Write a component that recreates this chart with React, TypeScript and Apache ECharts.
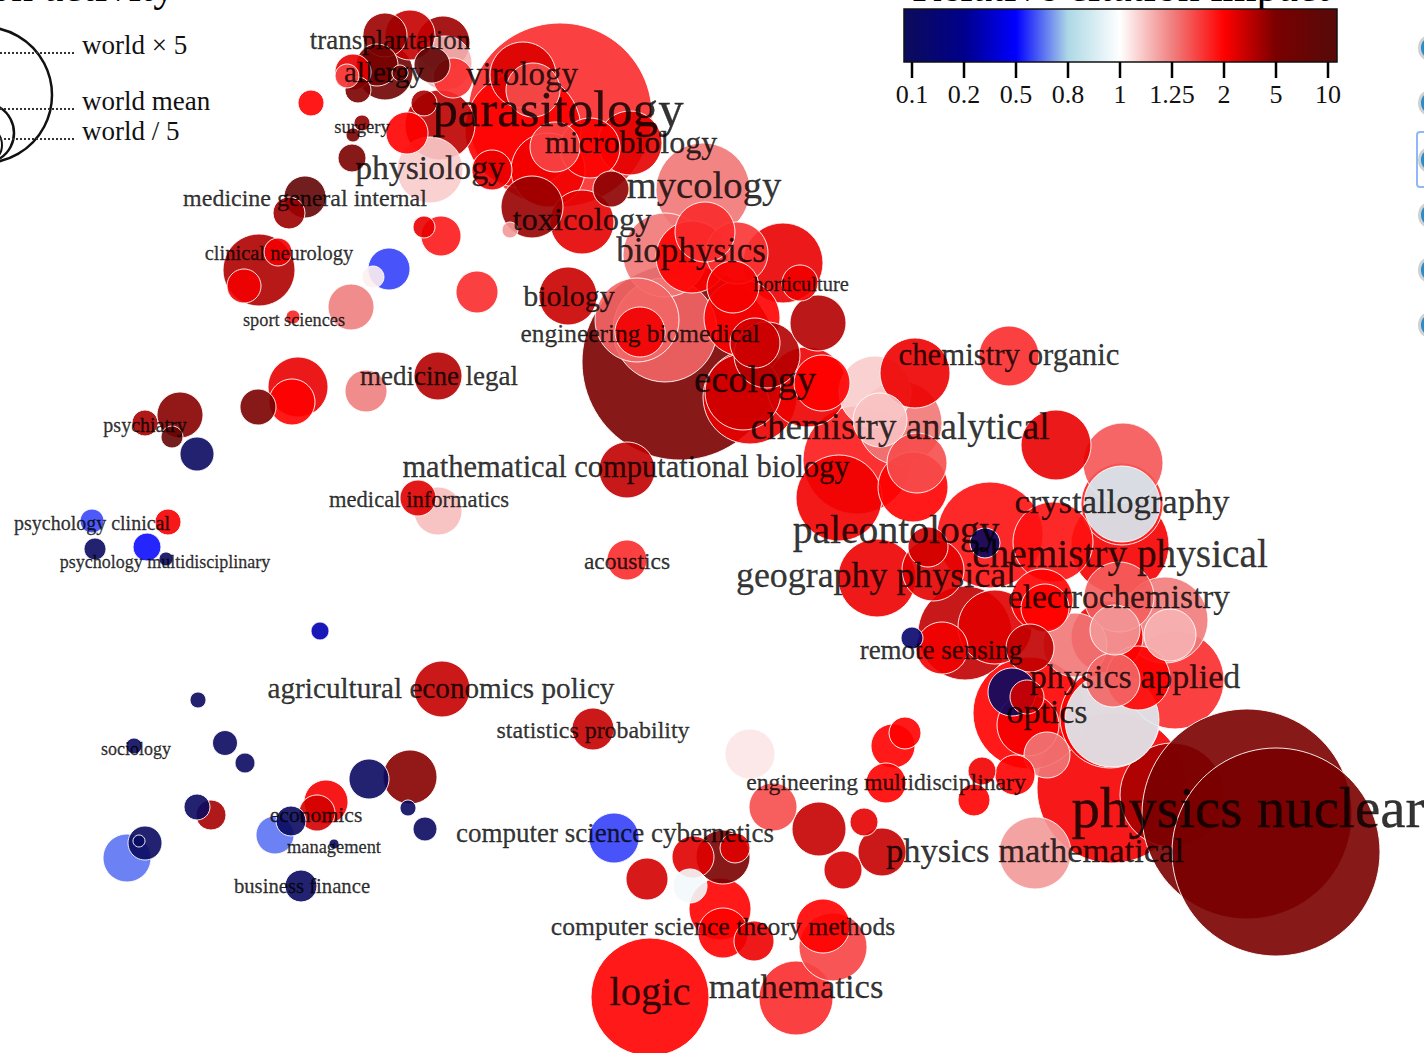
import React, { useEffect, useRef } from "react";
import * as echarts from "echarts";

// [map x, map y, bubble radius, citation impact]
type F = [number, number, number, number];

const medicineFields: F[] = [
  [385,35,22,4.2],[410,35,25,3.3],[443,43,27,4.2],[445,63,27,1.15],[432,65,18,9],[453,78,20,1.75],
  [353,72,18,2.5],[347,76,12,1.6],[377,65,21,5.5],[385,72,28,6.5],[358,90,13,5],[400,73,8,6],
  [311,103,13,2],[362,123,8,4.5],[353,135,7,5],[352,158,14,5],[440,125,35,3.5],[424,103,13,4],
  [407,133,21,2],[430,170,33,1.1],[305,197,21,8.5],[289,213,16,4.2],[259,270,36,3.8],[278,252,14,2.3],
  [244,286,17,2.3],[389,269,21,0.59],[373,277,11,1.03],[351,307,23,1.25],[293,317,7,1.8],[424,227,11,2.5],
  [441,236,20,1.85],[477,292,21,1.75],
];
const lifeScienceFields: F[] = [
  [560,115,92,1.75],[523,75,33,2.8],[523,130,58,2],[533,90,27,1.55],[555,147,25,1.6],[630,143,32,2.6],
  [492,170,20,2.4],[590,148,30,2.05],[532,207,31,4.3],[611,189,18,4.6],[582,222,32,2.6],[510,230,8,1.2],
  [548,170,37,2.3],[703,190,47,1.3],[705,232,30,1.75],[665,255,42,1.3],[692,257,36,2],[737,253,31,1.7],
  [783,263,40,2.5],[800,283,18,2.3],[733,287,26,2.2],[742,318,38,2],[818,323,28,3.7],[568,296,29,3.2],
];
const ecologyChemistryFields: F[] = [
  [665,330,52,1.4],[637,320,42,1.4],[640,332,25,2.3],[680,362,98,5],[755,343,25,3.1],[767,355,33,3.7],
  [750,397,47,2.5],[743,392,38,3.1],[807,387,40,2.4],[822,383,28,2],[875,392,36,1.1],[915,373,35,2.4],
  [880,420,27,1.12],[900,423,42,1.3],[857,460,54,1.85],[839,498,43,2.3],[917,463,30,1.55],[913,487,35,2],
  [627,470,28,3.4],[627,560,20,1.75],[877,578,39,2.4],[928,547,20,3],[933,570,31,2.6],[1009,356,30,1.75],
];
const physicsFields: F[] = [
  [1056,445,35,2.5],[1123,463,40,1.5],[1122,504,41,1.8],[1122,504,38,0.9],[990,535,53,1.9],[1053,542,40,1.9],[1120,545,49,2.2],
  [985,543,15,0.1],[965,633,47,3.4],[995,627,37,2.7],[1042,600,31,2],[1045,608,24,2],[1030,648,24,3.4],
  [942,648,26,2.3],[912,638,11,0.13],[1119,597,35,1.45],[1115,630,25,1.2],[1170,635,26,1.15],[1165,620,43,1.28],
  [1107,637,36,2.3],[1113,680,27,1.4],[1138,678,32,2],[1175,680,49,1.75],[1110,718,50,2],[1112,720,47,0.92],[1075,645,32,1.3],
  [1012,692,24,0.1],[1027,697,17,3],[1029,713,56,2],[1028,725,31,2.2],[1047,755,23,1.3],[1015,775,20,2],
  [982,771,14,2.3],[905,733,16,2],[893,746,22,2],[886,783,20,2],[974,800,16,2],[1112,788,75,2.2],
  [1172,795,52,4],[1035,853,36,1.2],
];
const nuclearFields: F[] = [[1247,814,105,5],[1276,852,104,5]];
const mathEngineeringFields: F[] = [
  [593,729,21,3.3],[750,754,25,1.05],[773,807,24,1.55],[819,829,27,3.3],[864,822,14,2.6],[843,870,19,3],
  [882,852,24,3.3],[614,838,25,0.59],[647,879,21,3],[693,857,21,2.7],[723,857,27,5],[735,848,15,2.7],
  [690,886,17,0.97],[720,909,31,2],[723,933,25,2],[754,941,20,2.4],[823,926,27,2],[833,947,34,1.6],
  [796,998,37,1.75],[650,997,59,2],[442,689,28,3.3],
];
const socialFields: F[] = [
  [298,387,30,2.5],[292,402,23,2],[258,407,18,5],[366,391,21,1.25],[438,376,24,3.7],[180,415,23,4.7],
  [145,423,13,4],[172,437,11,8],[197,454,17,0.1],[418,498,18,2.7],[438,511,24,1.13],[92,521,12,0.6],
  [168,522,13,2.2],[95,549,11,0.1],[147,547,14,0.52],[166,559,7,0.1],[320,631,9,0.3],[198,700,8,0.1],
  [134,746,8,0.1],[225,743,12.5,0.1],[245,763,10,0.1],[369,779,20,0.1],[410,777,27,4.7],[408,808,8,0.1],
  [425,829,12,0.1],[326,802,22,2.2],[317,813,18,3],[291,821,15,0.1],[275,835,19,0.66],[334,844,5,0.1],
  [301,886,16,0.1],[197,807,13,0.1],[211,815,15,4],[145,843,17,0.1],[139,841,6,0.1],[127,858,24,0.66],
];

const fieldNames = ["transplantation","allergy","virology","parasitology","surgery","microbiology","physiology","mycology","medicine general internal","toxicology","biophysics","clinical neurology","horticulture","biology","sport sciences","engineering biomedical","chemistry organic","medicine legal","ecology","psychiatry","chemistry analytical","mathematical computational biology","medical informatics","crystallography","psychology clinical","paleontology","chemistry physical","acoustics","psychology multidisciplinary","geography physical","electrochemistry","remote sensing","physics applied","agricultural economics policy","optics","statistics probability","sociology","engineering multidisciplinary","economics","computer science cybernetics","management","physics mathematical","business finance","physics nuclear","computer science theory methods","mathematics","logic"];
const nameX = [390,384,522,558,362,631,430,704,305,582,691,279,801,569,294,640,1009,439,755,145,900,626,419,1122,92,896,1120,627,165,876,1119,941,1135,441,1047,593,136,886,316,615,334,1035,302,1248,723,796,650];
const nameY = [40,73,75,111,126,143,168,186,198,220,251,253,284,296,320,333,356,376,380,425,428,468,500,502,523,531,555,561,562,576,597,650,677,689,712,730,749,782,815,833,847,851,886,810,927,987,993];
const nameSize = [27,29,33,50.8,18.7,32,33.7,38.7,24,32.5,35,20.5,20.5,30,18.3,25.4,30.8,27,38.5,20,37,30.5,22.6,34.6,20,39.6,39.3,23.5,18,35.9,33.3,27,34,29.2,34,23.9,18,23.7,21.7,27,18.4,34.5,20.7,57,25.7,34.6,40.5];

const impactTicks = [0.1,0.2,0.5,0.8,1,1.25,2,5,10];
const impactTickLabels = ["0.1","0.2","0.5","0.8","1","1.25","2","5","10"];
const impactColors = ["#0a0a60","#00008b","#0000ff","#add8e6","#ffffff","#f08080","#ff0000","#7a0000","#5a0808"];
const sizeLegendLabels = ["world × 5","world mean","world / 5"];

const SERIF = '"Liberation Serif","Times New Roman",serif';

function impactColor(v: number): string {
  let i = 0;
  while (i < impactTicks.length - 2 && v > impactTicks[i + 1]) i++;
  const t = Math.min(1, Math.max(0, (v - impactTicks[i]) / (impactTicks[i + 1] - impactTicks[i])));
  return echarts.color.lerp(t, [impactColors[i], impactColors[i + 1]]) as string;
}

export default function App() {
  const ref = useRef<HTMLDivElement>(null);
  useEffect(() => {
    document.body.style.margin = "0";
    document.body.style.overflow = "hidden";
    const chart = echarts.init(ref.current!, undefined, { renderer: "svg" });
    const sorted = [...medicineFields, ...lifeScienceFields, ...ecologyChemistryFields, ...physicsFields, ...mathEngineeringFields, ...socialFields]
      .slice().sort((a, b) => b[2] - a[2]);
    const fields = [...sorted, ...nuclearFields];

    const barX = 904, barW = 433, barY = 9, barH = 53;
    const tickX = impactTicks.map((_, i) => 912 + i * 52);
    const graphics: any[] = [
      { type: "text", x: 912, y: 8, style: { text: "Relative citation impact", font: `43.7px ${SERIF}`, fill: "#000", verticalAlign: "bottom" } },
      { type: "text", x: 175, y: 8, style: { text: "Publication activity", font: `43.7px ${SERIF}`, fill: "#000", align: "right", verticalAlign: "bottom" } },
      { type: "rect", shape: { x: barX, y: barY, width: barW, height: barH }, style: { stroke: "#111", lineWidth: 1.5, fill: new echarts.graphic.LinearGradient(0, 0, 1, 0, impactColors.map((color, i) => ({ offset: (tickX[i] - barX) / barW, color }))) } },
      ...tickX.map((x) => ({ type: "line", shape: { x1: x, y1: 62, x2: x, y2: 78 }, style: { stroke: "#000", lineWidth: 2.5 } })),
      ...tickX.map((x, i) => ({ type: "text", x, y: 94, style: { text: impactTickLabels[i], font: `26px ${SERIF}`, fill: "#111", align: "center", verticalAlign: "middle" } })),
      { type: "circle", shape: { cx: -16, cy: 95, r: 68 }, style: { fill: "none", stroke: "#111", lineWidth: 2.5 } },
      { type: "circle", shape: { cx: -16, cy: 133, r: 30 }, style: { fill: "none", stroke: "#111", lineWidth: 2.5 } },
      { type: "circle", shape: { cx: -16, cy: 145, r: 18 }, style: { fill: "none", stroke: "#111", lineWidth: 2 } },
      ...[53, 109, 139].map((y) => ({ type: "line", shape: { x1: 0, y1: y, x2: 76, y2: y }, style: { stroke: "#333", lineWidth: 2, lineDash: [2, 2] } })),
      ...[44.5, 100.5, 131].map((y, i) => ({ type: "text", x: 82, y, style: { text: sizeLegendLabels[i], font: `27px ${SERIF}`, fill: "#111", verticalAlign: "middle" } })),
      ...[48, 103, 160, 215, 270, 325].map((cy) => ({ type: "circle", shape: { cx: 1432, cy, r: 12.5 }, style: { fill: "#2a8cc8", stroke: "#d0d0d0", lineWidth: 3 } })),
      { type: "rect", shape: { x: 1417, y: 132, width: 20, height: 55, r: 3 }, style: { fill: "none", stroke: "#90b8f8", lineWidth: 2 } },
    ];

    chart.setOption({
      animation: false,
      grid: { left: 0, right: 0, top: 0, bottom: 0 },
      xAxis: { type: "value", min: 0, max: 1424, show: false },
      yAxis: { type: "value", min: 0, max: 1053, inverse: true, show: false },
      graphic: { elements: graphics },
      series: [
        {
          type: "scatter",
          clip: false,
          symbolSize: (d: number[]) => d[2] * 2,
          data: fields.map((f) => ({ value: f, itemStyle: { color: impactColor(f[3]) } })),
          itemStyle: { opacity: 0.9, borderColor: "#fff", borderWidth: 1 },
          silent: true,
          z: 2,
        },
        {
          type: "scatter",
          clip: false,
          symbolSize: 0,
          silent: true,
          z: 3,
          data: fieldNames.map((name, i) => ({
            name,
            value: [nameX[i], nameY[i] - Math.max(0, nameSize[i] - 20) * 0.06],
            label: { fontSize: nameSize[i] },
          })),
          label: {
            show: true,
            position: "inside",
            formatter: "{b}",
            color: "#000",
            fontFamily: SERIF,
            align: "center",
            verticalAlign: "middle",
            textBorderColor: "#000",
            textBorderWidth: 0.3,
          },
        },
      ],
    });
    return () => chart.dispose();
  }, []);
  return <div ref={ref} style={{ position: "absolute", left: 0, top: 0, width: 1424, height: 1053 }} />;
}
